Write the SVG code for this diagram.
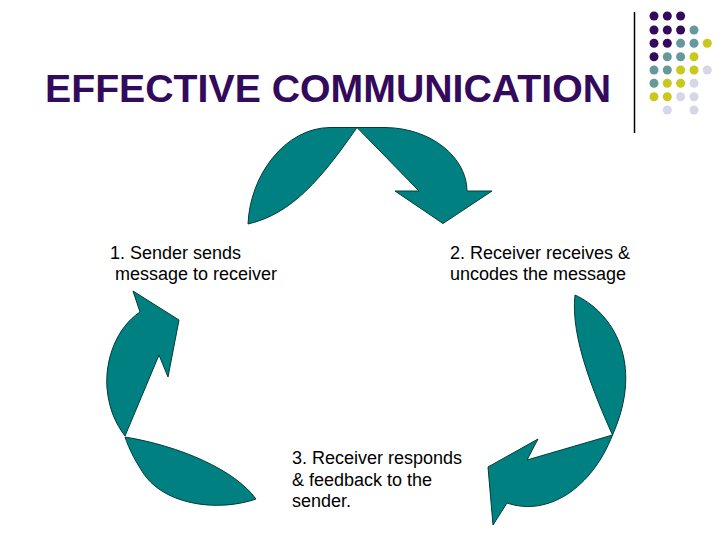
<svg xmlns="http://www.w3.org/2000/svg" width="728" height="546" viewBox="0 0 728 546">
<style>
.arr{fill:#008080;stroke:#003c3c;stroke-width:1;stroke-linejoin:miter}
.lbl{font-family:"Liberation Sans",Arial,sans-serif;font-size:18px;fill:#000}
.p{fill:#330a5c}.t{fill:#669999}.y{fill:#c8c81e}.l{fill:#d6d6e8}
</style>
<rect width="728" height="546" fill="#fff"/>
<g id="decoration">
<line x1="634.5" y1="12" x2="634.5" y2="133" stroke="#000" stroke-width="1.5"/>
<g>
<circle class="p" cx="654" cy="16" r="4.5"/><circle class="p" cx="667.3" cy="16" r="4.5"/><circle class="p" cx="680.6" cy="16" r="4.5"/>
<circle class="p" cx="654" cy="30" r="4.5"/><circle class="p" cx="667.3" cy="30" r="4.5"/><circle class="p" cx="680.6" cy="30" r="4.5"/><circle class="t" cx="694" cy="30" r="4.5"/>
<circle class="p" cx="654" cy="43.3" r="4.5"/><circle class="p" cx="667.3" cy="43.3" r="4.5"/><circle class="t" cx="680.6" cy="43.3" r="4.5"/><circle class="t" cx="694" cy="43.3" r="4.5"/><circle class="y" cx="707.3" cy="43.3" r="4.5"/>
<circle class="p" cx="654" cy="56.7" r="4.5"/><circle class="t" cx="667.3" cy="56.7" r="4.5"/><circle class="t" cx="680.6" cy="56.7" r="4.5"/><circle class="y" cx="694" cy="56.7" r="4.5"/>
<circle class="t" cx="654" cy="70" r="4.5"/><circle class="t" cx="667.3" cy="70" r="4.5"/><circle class="y" cx="680.6" cy="70" r="4.5"/><circle class="y" cx="694" cy="70" r="4.5"/><circle class="l" cx="707.3" cy="70" r="4.5"/>
<circle class="t" cx="654" cy="83.3" r="4.5"/><circle class="y" cx="667.3" cy="83.3" r="4.5"/><circle class="y" cx="680.6" cy="83.3" r="4.5"/><circle class="l" cx="694" cy="83.3" r="4.5"/>
<circle class="y" cx="654" cy="96.7" r="4.5"/><circle class="y" cx="667.3" cy="96.7" r="4.5"/><circle class="l" cx="680.6" cy="96.7" r="4.5"/><circle class="l" cx="694" cy="96.7" r="4.5"/>
<circle class="l" cx="667.3" cy="110" r="4.5"/><circle class="l" cx="694" cy="110" r="4.5"/>
</g>
</g>
<g id="title">
<text x="45" y="102" font-family="'Liberation Sans',Arial,sans-serif" font-weight="bold" font-size="39" fill="#330a5c" textLength="566" lengthAdjust="spacingAndGlyphs">EFFECTIVE COMMUNICATION</text>
</g>
<g id="connectors">
<path class="arr" d="M248,224 C250,175 285,128 330,127.5 L357,127.5 C322,178 292,214 248,224 Z"/>
<path class="arr" d="M357,127.5 L385,127.5 C432,128 467,158 467,191 L492,191 L443,223.5 L395,191 L419,191 Z"/>
<path class="arr" d="M575,295 C612,312 645,362 612.5,435 C596,398 570,338 575,295 Z"/>
<path class="arr" d="M612.5,435 L527,460 L538,439 L488,467 L493,525 L507,503 C548,517 592,488 612.5,435 Z"/>
<path class="arr" d="M125,437 C180,446 235,470 256,499 C222,511 170,507 146,477 C136,463 129,449 125,437 Z"/>
<path class="arr" d="M125,436 L159,355 L168,377 L179,320 L133,291 L140,312 C116,328 105,360 107,388 C109,410 116,424 125,436 Z"/>
</g>
<g id="node1">
<text class="lbl" x="110" y="259">1. Sender sends</text>
<text class="lbl" x="110" y="280" xml:space="preserve"> message to receiver</text>
</g>
<g id="node2">
<text class="lbl" x="450" y="259">2. Receiver receives &amp;</text>
<text class="lbl" x="450" y="280">uncodes the message</text>
</g>
<g id="node3">
<text class="lbl" x="292" y="464">3. Receiver responds</text>
<text class="lbl" x="292" y="486">&amp; feedback to the</text>
<text class="lbl" x="292" y="507">sender.</text>
</g>
</svg>
